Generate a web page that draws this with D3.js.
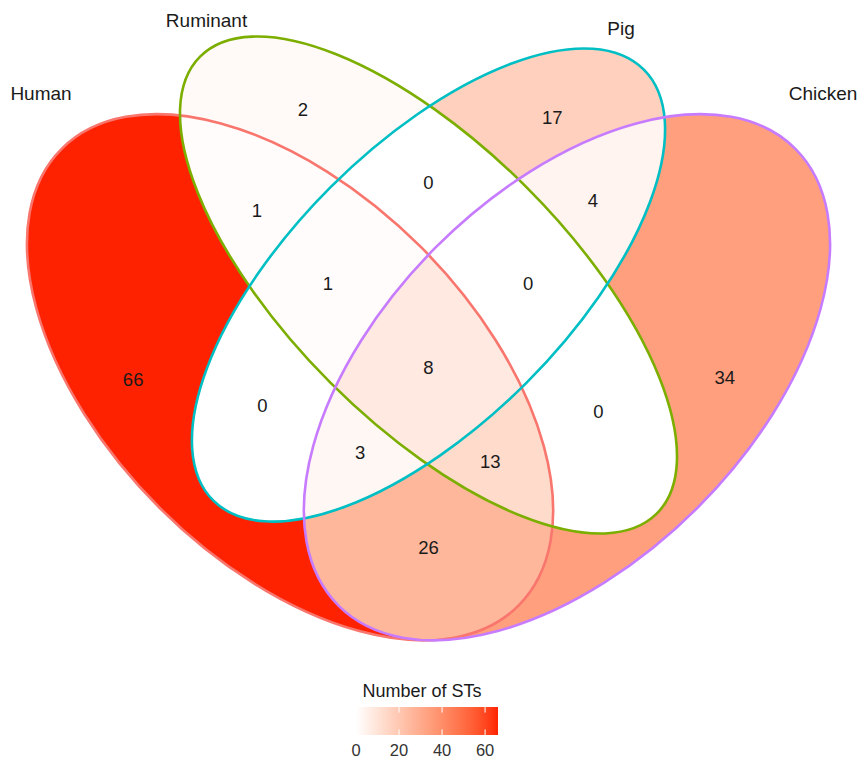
<!DOCTYPE html>
<html>
<head>
<meta charset="utf-8">
<script src="https://cdn.jsdelivr.net/npm/d3@7"></script>
<style>
  body { margin: 0; background: #fff; }
  text { font-family: "Liberation Sans", Arial, sans-serif; }
</style>
</head>
<body>
<div id="chart"></div>
<script>
// Sets and the number of STs in every region (H=Human, R=Ruminant, P=Pig, C=Chicken)
const setNames = ["Human", "Ruminant", "Pig", "Chicken"];
const setKeys = ["H", "R", "P", "C"];
const regionKeys = ["H", "R", "P", "C", "HR", "HP", "HC", "RP", "RC", "PC", "HRP", "HRC", "HPC", "RPC", "HRPC"];
const regionCounts = [66, 2, 17, 34, 1, 0, 26, 0, 0, 4, 1, 13, 3, 0, 8];
const legendTicks = [0, 20, 40, 60];
const legendMax = 66;

// Layout, in venn units (ellipse: centre, semi-axes, angle in degrees)
const shapes = [
    { cx: 0.35, cy: 0.47, a: 0.35, b: 0.20, rot: 135 },
    { cx: 0.50, cy: 0.57, a: 0.35, b: 0.15, rot: 135 },
    { cx: 0.50, cy: 0.57, a: 0.33, b: 0.15, rot: 45 },
    { cx: 0.65, cy: 0.47, a: 0.35, b: 0.20, rot: 45 }
];
const edgeColors = ["#F8766D", "#7CAE00", "#00BFC4", "#C77CFF"];
const regionLabelPos = [
    [0.180, 0.467], [0.364, 0.760], [0.634, 0.752], [0.821, 0.470],
    [0.314, 0.651], [0.320, 0.439], [0.500, 0.285], [0.500, 0.681],
    [0.684, 0.433], [0.678, 0.662], [0.391, 0.572], [0.567, 0.379],
    [0.426, 0.388], [0.608, 0.572], [0.500, 0.481]
];
const setLabelPos = [[0.0802, 0.7707], [0.2595, 0.8499], [0.7086, 0.8412], [0.9275, 0.7707]];

const W = 861, H = 761;

const svg = d3.select("#chart").append("svg")
    .attr("width", W)
    .attr("height", H);

// Scales (equal aspect)
const x = d3.scaleLinear().domain([0.065, 0.935]).range([27, 830]);
const y = d3.scaleLinear().domain([0.185, 0.839]).range([640, 37]);
const k = x(1) - x(0);

const color = d3.scaleLinear()
    .domain([0, legendMax])
    .range(["#ffffff", "#ff2200"])
    .interpolate(d3.interpolateLab);

const defs = svg.append("defs");

function ellipseAttrs(sel, s) {
    sel.attr("rx", s.a * k)
        .attr("ry", s.b * k)
        .attr("transform", `translate(${x(s.cx)},${y(s.cy)}) rotate(${-s.rot})`);
}

// One clip path per set
shapes.forEach((s, i) => {
    defs.append("clipPath").attr("id", "clip-" + i)
        .append("ellipse").call(ellipseAttrs, s);
});

// Regions: clip to included sets, mask out excluded ones
const regionLayer = svg.append("g").attr("class", "regions");
regionKeys.forEach((key, r) => {
    const inc = setKeys.map((c, i) => key.includes(c) ? i : -1).filter(i => i >= 0);
    const exc = setKeys.map((c, i) => key.includes(c) ? -1 : i).filter(i => i >= 0);

    const mask = defs.append("mask").attr("id", "mask-" + r)
        .attr("maskUnits", "userSpaceOnUse")
        .attr("x", 0).attr("y", 0).attr("width", W).attr("height", H);
    mask.append("rect").attr("width", W).attr("height", H).attr("fill", "#fff");
    exc.forEach(i => mask.append("ellipse").call(ellipseAttrs, shapes[i]).attr("fill", "#000"));

    let g = regionLayer.append("g").attr("mask", `url(#mask-${r})`);
    inc.forEach(i => { g = g.append("g").attr("clip-path", `url(#clip-${i})`); });
    g.append("rect")
        .attr("width", W).attr("height", H)
        .attr("fill", color(regionCounts[r]));
});

// Set outlines
svg.append("g").attr("class", "edges")
    .selectAll("ellipse")
    .data(shapes)
    .join("ellipse")
    .each(function (s) { d3.select(this).call(ellipseAttrs, s); })
    .attr("fill", "none")
    .attr("stroke", (d, i) => edgeColors[i])
    .attr("stroke-width", 2.6);

// Region counts
svg.append("g").attr("class", "counts")
    .selectAll("text")
    .data(regionCounts)
    .join("text")
    .attr("x", (d, i) => x(regionLabelPos[i][0]))
    .attr("y", (d, i) => y(regionLabelPos[i][1]))
    .attr("text-anchor", "middle")
    .attr("dominant-baseline", "central")
    .attr("font-size", 18.5)
    .attr("fill", "#1a1a1a")
    .text(d => d);

// Set names
svg.append("g").attr("class", "set-labels")
    .selectAll("text")
    .data(setNames)
    .join("text")
    .attr("x", (d, i) => x(setLabelPos[i][0]))
    .attr("y", (d, i) => y(setLabelPos[i][1]))
    .attr("text-anchor", "middle")
    .attr("font-size", 19)
    .attr("fill", "#1a1a1a")
    .text(d => d);

// Legend
const lx = d3.scaleLinear().domain([0, legendMax]).range([356, 498]);
const barTop = 707, barH = 28;

const grad = defs.append("linearGradient").attr("id", "legend-grad");
d3.range(0, 1.0001, 0.05).forEach(t => {
    grad.append("stop")
        .attr("offset", t)
        .attr("stop-color", color(t * legendMax));
});

const legend = svg.append("g").attr("class", "legend");
legend.append("text")
    .attr("x", (lx(0) + lx(legendMax)) / 2 - 5)
    .attr("y", 697)
    .attr("text-anchor", "middle")
    .attr("font-size", 18)
    .attr("fill", "#1a1a1a")
    .text("Number of STs");

legend.append("rect")
    .attr("x", lx(0)).attr("y", barTop)
    .attr("width", lx(legendMax) - lx(0)).attr("height", barH)
    .attr("fill", "url(#legend-grad)");

const tickG = legend.selectAll(".tick")
    .data(legendTicks)
    .join("g")
    .attr("class", "tick");
tickG.append("line")
    .attr("x1", d => lx(d)).attr("x2", d => lx(d))
    .attr("y1", barTop).attr("y2", barTop + barH / 5)
    .attr("stroke", "#fff").attr("stroke-width", 1);
tickG.append("line")
    .attr("x1", d => lx(d)).attr("x2", d => lx(d))
    .attr("y1", barTop + barH - barH / 5).attr("y2", barTop + barH)
    .attr("stroke", "#fff").attr("stroke-width", 1);
tickG.append("text")
    .attr("x", d => lx(d))
    .attr("y", 756)
    .attr("text-anchor", "middle")
    .attr("font-size", 16.5)
    .attr("fill", "#333")
    .text(d => d);
</script>
</body>
</html>
